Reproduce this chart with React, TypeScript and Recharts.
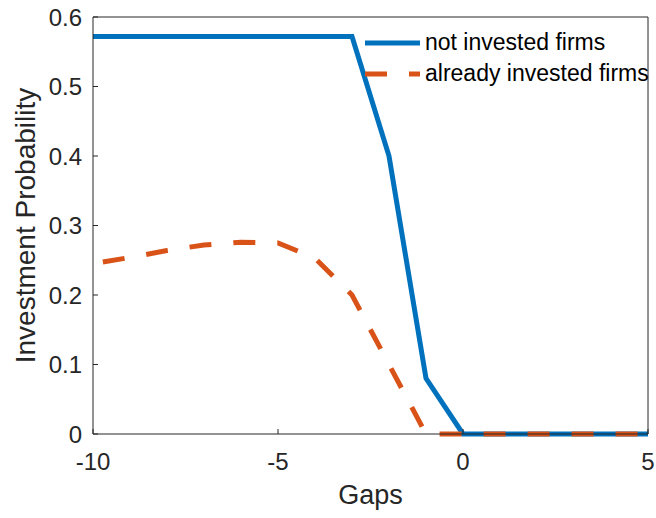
import { LineChart, Line, XAxis, YAxis, Label } from "recharts"

const gaps = [-10, -9, -8, -7, -6, -5, -4, -3, -2, -1, 0, 1, 2, 3, 4, 5]
const notInvested = [0.572, 0.572, 0.572, 0.572, 0.572, 0.572, 0.572, 0.572, 0.4, 0.08, 0, 0, 0, 0, 0, 0]
const alreadyInvested = [0.245, 0.254, 0.264, 0.272, 0.276, 0.275, 0.253, 0.2, 0.1, 0, 0, 0, 0, 0, 0, 0]
const xTicks = [-10, -5, 0, 5]
const yTicks = [0, 0.1, 0.2, 0.3, 0.4, 0.5, 0.6]

const series = [
  { key: "notInvested", name: "not invested firms", color: "#0072BD", dash: undefined },
  { key: "alreadyInvested", name: "already invested firms", color: "#D95319", dash: "22 22" },
]

const data = gaps.map((g, i) => ({
  gap: g,
  notInvested: notInvested[i],
  alreadyInvested: alreadyInvested[i],
}))

const FONT = "'Liberation Sans', Arial, Helvetica, sans-serif"
const AXIS = "#262626"

function LegendBox() {
  return (
    <div style={{ position: "absolute", left: 365, top: 27, fontFamily: FONT, fontSize: 23, color: "#000" }}>
      {series.map((s) => (
        <div key={s.key} style={{ display: "flex", alignItems: "center", height: 31 }}>
          <svg width={60} height={10} style={{ display: "block" }}>
            <line x1={0} x2={55} y1={5} y2={5} stroke={s.color} strokeWidth={5} strokeDasharray={s.dash} />
          </svg>
          <span style={{ whiteSpace: "nowrap" }}>{s.name}</span>
        </div>
      ))}
    </div>
  )
}

export default function App() {
  return (
    <div style={{ position: "relative", width: 656, height: 518, background: "#fff" }}>
      <style>{`body{margin:0}`}</style>
      <LineChart
        width={656}
        height={518}
        data={data}
        margin={{ top: 16, right: 7, bottom: 83, left: 92 }}
        style={{ fontFamily: FONT }}
      >
        <XAxis
          dataKey="gap"
          type="number"
          domain={[-10, 5]}
          ticks={xTicks}
          height={1}
          stroke={AXIS}
          tickSize={-5}
          tickMargin={24}
          tick={{ fill: AXIS, fontSize: 24 }}
        >
          <Label value="Gaps" position="bottom" offset={50} fill={AXIS} fontSize={27} />
        </XAxis>
        <XAxis
          xAxisId="top"
          orientation="top"
          dataKey="gap"
          type="number"
          domain={[-10, 5]}
          ticks={xTicks}
          height={1}
          stroke={AXIS}
          tickSize={-5}
          tick={false}
        />
        <YAxis
          type="number"
          domain={[0, 0.6]}
          ticks={yTicks}
          width={1}
          stroke={AXIS}
          tickSize={-5}
          tickMargin={16}
          tick={{ fill: AXIS, fontSize: 24 }}
        >
          <Label
            content={({ viewBox }: any) => {
              const cy = viewBox.y + viewBox.height / 2
              const cx = 35
              return (
                <text
                  x={cx}
                  y={cy}
                  transform={`rotate(-90, ${cx}, ${cy})`}
                  textAnchor="middle"
                  fill={AXIS}
                  fontSize={28}
                  fontFamily={FONT}
                >
                  Investment Probability
                </text>
              )
            }}
          />
        </YAxis>
        <YAxis
          yAxisId="right"
          orientation="right"
          type="number"
          domain={[0, 0.6]}
          ticks={yTicks}
          width={1}
          stroke={AXIS}
          tickSize={-5}
          tick={false}
        />
        {series.map((s) => (
          <Line
            key={s.key}
            dataKey={s.key}
            name={s.name}
            type="linear"
            stroke={s.color}
            strokeWidth={5}
            strokeDasharray={s.dash}
            strokeDashoffset={s.dash ? 34 : undefined}
            dot={false}
            activeDot={false}
            isAnimationActive={false}
          />
        ))}
      </LineChart>
      <LegendBox />
    </div>
  )
}
